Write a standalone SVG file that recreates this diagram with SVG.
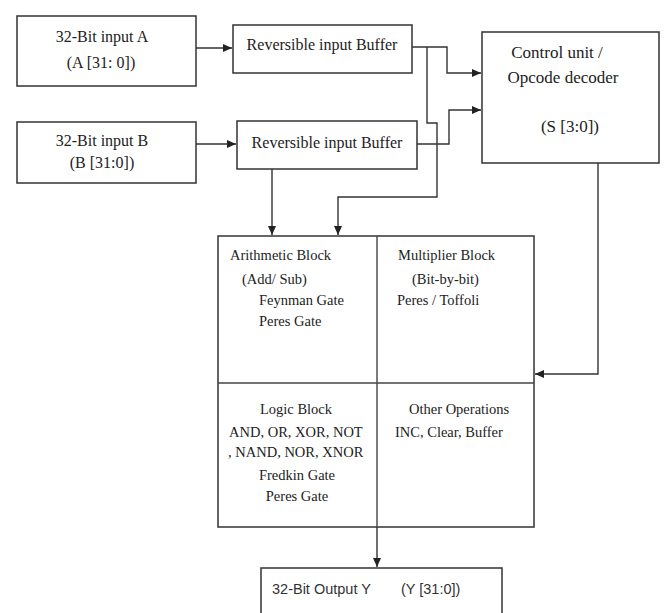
<svg xmlns="http://www.w3.org/2000/svg" width="664" height="613" viewBox="0 0 664 613">
  <defs>
    <marker id="arr" markerWidth="9" markerHeight="8" refX="9" refY="4" orient="auto" markerUnits="userSpaceOnUse">
      <path d="M0,0 L9,4 L0,8 z" fill="#222"/>
    </marker>
    <style>
      .box { fill: #fff; stroke: #333; stroke-width: 1.5; }
      .div { fill: none; stroke: #444; stroke-width: 1.4; }
      .conn { fill: none; stroke: #333; stroke-width: 1.4; marker-end: url(#arr); }
      text { font-family: "Liberation Serif", "Times New Roman", serif; fill: #222; }
      .t16 { font-size: 16px; text-anchor: middle; }
      .t17 { font-size: 17px; text-anchor: middle; }
      .t14 { font-size: 14.5px; }
      .mid { text-anchor: middle; }
      .sans { font-family: "Liberation Sans", Arial, sans-serif; font-size: 14.5px; fill: #333; }
    </style>
  </defs>
  <rect width="664" height="613" fill="#fff"/>

  <g id="connectors">
    <path class="conn" d="M196 48 H232"/>
    <path class="conn" d="M196 144 H236"/>
    <path class="conn" d="M412 47 H447 V73 H481"/>
    <path class="conn" d="M427 47 V123 H437 V197 H338 V235"/>
    <path class="conn" d="M417 144 H449 V110 H481"/>
    <path class="conn" d="M272 169 V235"/>
    <path class="conn" d="M598 163 V374 H535"/>
    <path class="conn" d="M377 527 V567"/>
  </g>

  <g id="inputA">
    <rect class="box" x="17" y="16" width="179" height="70"/>
    <text class="t16" x="102" y="42">32-Bit input A</text>
    <text class="t16" x="101" y="68">(A [31: 0])</text>
  </g>

  <g id="inputB">
    <rect class="box" x="17" y="122" width="179" height="61"/>
    <text class="t16" x="102" y="146">32-Bit input B</text>
    <text class="t16" x="102" y="168">(B [31:0])</text>
  </g>

  <g id="bufferA">
    <rect class="box" x="233" y="25" width="179" height="48"/>
    <text class="t16" x="322" y="50">Reversible input Buffer</text>
  </g>

  <g id="bufferB">
    <rect class="box" x="237" y="121" width="180" height="48"/>
    <text class="t16" x="327" y="148">Reversible input Buffer</text>
  </g>

  <g id="control">
    <rect class="box" x="482" y="32" width="177" height="131"/>
    <text class="t17" x="557" y="58">Control unit /</text>
    <text class="t17" x="563" y="83">Opcode decoder</text>
    <text class="t17" x="570" y="132">(S [3:0])</text>
  </g>

  <g id="alu">
    <rect class="box" x="218" y="236" width="316" height="291"/>
    <line class="div" x1="218" y1="383" x2="534" y2="383"/>
    <line class="div" x1="377" y1="236" x2="377" y2="527"/>
  </g>

  <g id="arithmetic">
    <text class="t14" x="230" y="260">Arithmetic Block</text>
    <text class="t14" x="242" y="284">(Add/ Sub)</text>
    <text class="t14" x="259" y="305">Feynman Gate</text>
    <text class="t14" x="259" y="326">Peres Gate</text>
  </g>

  <g id="multiplier">
    <text class="t14" x="398" y="260">Multiplier Block</text>
    <text class="t14" x="412" y="284">(Bit-by-bit)</text>
    <text class="t14" x="397" y="305">Peres / Toffoli</text>
  </g>

  <g id="logic">
    <text class="t14 mid" x="296" y="414">Logic Block</text>
    <text class="t14" x="229" y="437">AND, OR, XOR, NOT</text>
    <text class="t14" x="228" y="457">, NAND, NOR, XNOR</text>
    <text class="t14 mid" x="297" y="480">Fredkin Gate</text>
    <text class="t14 mid" x="297" y="501">Peres Gate</text>
  </g>

  <g id="other">
    <text class="t14" x="409" y="414">Other Operations</text>
    <text class="t14" x="395" y="437">INC, Clear, Buffer</text>
  </g>

  <g id="output">
    <rect class="box" x="261" y="568" width="241" height="60"/>
    <text class="sans" x="272" y="594">32-Bit Output Y</text>
    <text class="sans" x="401" y="594">(Y [31:0])</text>
  </g>
</svg>
